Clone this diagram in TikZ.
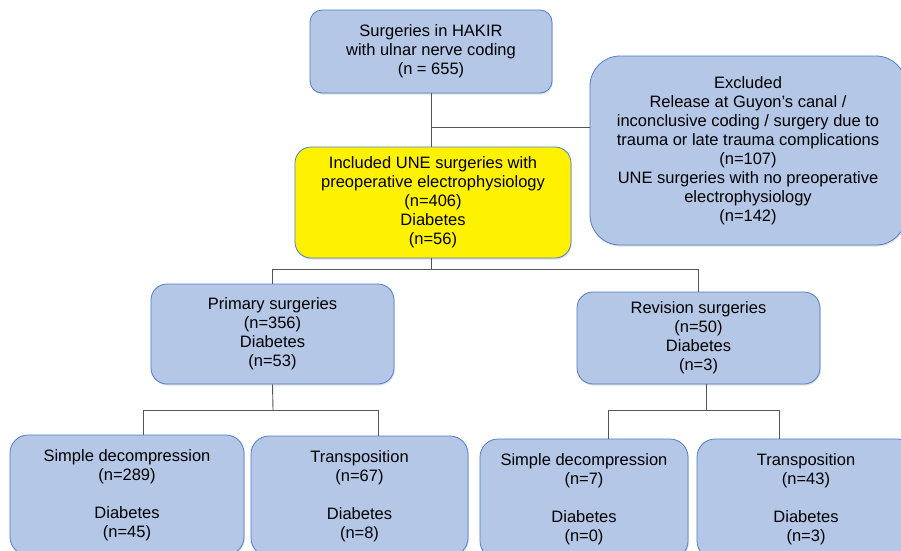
\documentclass[tikz,border=0pt]{standalone}
\usepackage{fontspec}
\setmainfont{Liberation Sans}
\usetikzlibrary{shadows}
\definecolor{boxblue}{RGB}{180,199,231}
\definecolor{boxedge}{RGB}{80,125,200}
\definecolor{linegray}{RGB}{85,85,85}
\begin{document}
\begin{tikzpicture}[x=1pt,y=-1pt,
  box/.style={draw=boxedge, line width=0.8pt, fill=boxblue, align=center,
    inner sep=0pt, font=\fontsize{16.5}{19}\selectfont,
    drop shadow={opacity=0.25, shadow xshift=0.8pt, shadow yshift=-1.6pt}},
  conn/.style={draw=linegray, line width=0.9pt}]
\useasboundingbox (0,0) rectangle (901,550);

\node[box, rounded corners=12pt, minimum width=242pt, minimum height=83pt] (top) at (431,51.5)
  {Surgeries in HAKIR\\with ulnar nerve coding\\(n = 655)};
\node[box, rounded corners=30pt, minimum width=316pt, minimum height=189pt] (excl) at (748,150.5)
  {Excluded\\Release at Guyon’s canal /\\inconclusive coding / surgery due to\\trauma or late trauma complications\\(n=107)\\UNE surgeries with no preoperative\\electrophysiology\\(n=142)};
\node[box, fill=yellow, rounded corners=16pt, minimum width=276pt, minimum height=111pt] (incl) at (433,202.5)
  {Included UNE surgeries with\\preoperative electrophysiology\\(n=406)\\Diabetes\\(n=56)};
\node[box, rounded corners=16pt, minimum width=243pt, minimum height=100pt] (prim) at (272.5,334)
  {Primary surgeries\\(n=356)\\Diabetes\\(n=53)};
\node[box, rounded corners=16pt, minimum width=243pt, minimum height=92pt] (rev) at (698.5,338)
  {Revision surgeries\\(n=50)\\Diabetes\\(n=3)};
\node[box, rounded corners=18pt, minimum width=234pt, minimum height=120pt] (sd1) at (127,495)
  {Simple decompression\\(n=289)\\[19pt]Diabetes\\(n=45)};
\node[box, rounded corners=18pt, minimum width=217pt, minimum height=120pt] (tr1) at (359.5,496)
  {Transposition\\(n=67)\\[19pt]Diabetes\\(n=8)};
\node[box, rounded corners=18pt, minimum width=208pt, minimum height=120pt] (sd2) at (584,499)
  {Simple decompression\\(n=7)\\[19pt]Diabetes\\(n=0)};
\node[box, rounded corners=18pt, minimum width=218pt, minimum height=120pt] (tr2) at (806,499)
  {Transposition\\(n=43)\\[19pt]Diabetes\\(n=3)};

\coordinate (j1) at (431,127);
\coordinate (j2) at (431,269);
\coordinate (j3) at (273,410);
\coordinate (a1) at (143,410);
\coordinate (a2) at (378,410);
\coordinate (j4) at (706,410);
\coordinate (a3) at (608,410);
\coordinate (a4) at (779,410);

\draw[conn] (top.south) -- (top.south |- incl.north);
\draw[conn] (j1) -- (j1 -| excl.west);
\draw[conn] (j2 |- incl.south) -- (j2);
\draw[conn] (prim.north) |- (j2);
\draw[conn] (rev.north) |- (j2);
\draw[conn] (prim.south) -- (j3);
\draw[conn] (a1 |- sd1.north) -- (a1) -- (a2) -- (a2 |- tr1.north);
\draw[conn] (j4 |- rev.south) -- (j4);
\draw[conn] (a3 |- sd2.north) -- (a3) -- (a4) -- (a4 |- tr2.north);
\end{tikzpicture}
\end{document}
